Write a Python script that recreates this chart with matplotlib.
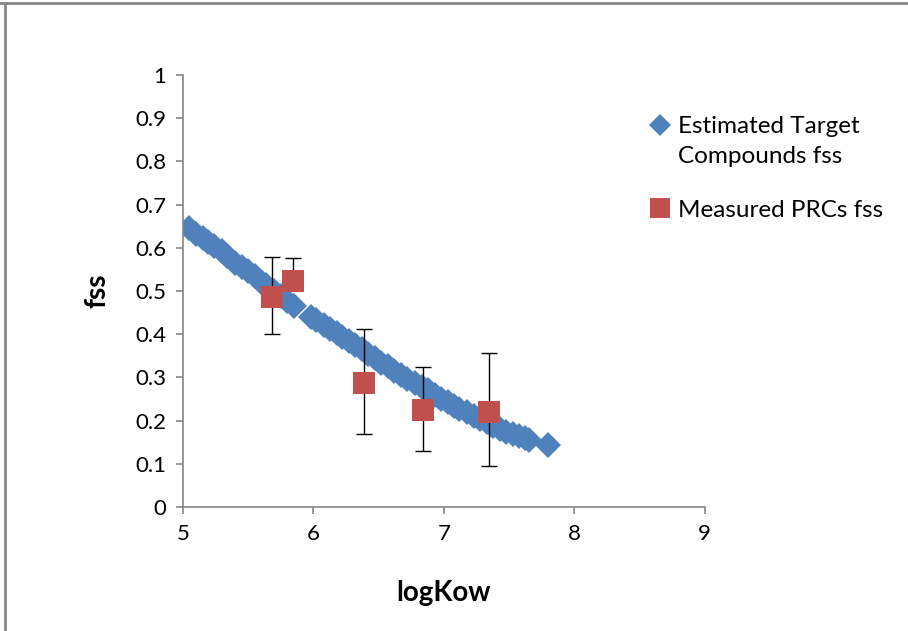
import matplotlib
matplotlib.use("Agg")
import matplotlib.pyplot as plt
from matplotlib.lines import Line2D

plt.rcParams['font.family'] = ['Lato', 'DejaVu Sans']

# estimated target compounds (logKow, fss)
est_x = [5.05, 5.10, 5.15, 5.19, 5.24, 5.30, 5.34, 5.40, 5.45, 5.50, 5.55, 5.60,
         5.64, 5.70, 5.75, 5.80, 5.85,
         5.98, 6.02, 6.08, 6.13, 6.18, 6.22, 6.27, 6.32, 6.37, 6.42, 6.47, 6.52,
         6.57, 6.62, 6.67, 6.72, 6.78, 6.83, 6.88, 6.93, 6.98, 7.03, 7.08, 7.12,
         7.18, 7.23, 7.28, 7.33, 7.38, 7.43, 7.48, 7.53, 7.58, 7.62, 7.65, 7.80]
est_y = [0.646, 0.633, 0.623, 0.614, 0.604, 0.592, 0.580, 0.566, 0.556, 0.546, 0.535, 0.522,
         0.513, 0.500, 0.489, 0.478, 0.466,
         0.440, 0.432, 0.421, 0.412, 0.402, 0.394, 0.384, 0.374, 0.365, 0.355, 0.344, 0.334,
         0.326, 0.316, 0.306, 0.297, 0.287, 0.278, 0.270, 0.260, 0.251, 0.243, 0.235, 0.228,
         0.219, 0.210, 0.203, 0.196, 0.188, 0.180, 0.174, 0.170, 0.165, 0.160, 0.156, 0.143]

# measured PRCs
prc_x = [5.68, 5.84, 6.39, 6.84, 7.35]
prc_y = [0.486, 0.524, 0.287, 0.225, 0.220]
prc_err_lo = [0.086, 0.020, 0.118, 0.095, 0.125]
prc_err_hi = [0.093, 0.052, 0.125, 0.099, 0.136]

blue = '#4F81BD'
red = '#C0504D'
grey = '#868686'

fig = plt.figure(figsize=(9.08, 6.31), dpi=100)
ax = fig.add_axes([0.2015, 0.1965, 0.5745, 0.6845])

ax.plot(est_x, est_y, linestyle='none', marker='D', markersize=13,
        color=blue, markeredgewidth=0, zorder=2)
ax.errorbar(prc_x, prc_y, yerr=[prc_err_lo, prc_err_hi], fmt='none',
            ecolor='black', elinewidth=1, capsize=6, capthick=1, zorder=3)
ax.plot(prc_x, prc_y, linestyle='none', marker='s', markersize=16,
        color=red, markeredgewidth=0, zorder=4)

ax.set_xlim(5, 9)
ax.set_ylim(0, 1)
ax.set_xticks([5, 6, 7, 8, 9])
ax.set_yticks([i / 10 for i in range(11)])
ax.set_yticklabels(['0', '0.1', '0.2', '0.3', '0.4', '0.5', '0.6', '0.7', '0.8', '0.9', '1'])

for s in ['top', 'right']:
    ax.spines[s].set_visible(False)
for s in ['left', 'bottom']:
    ax.spines[s].set_color(grey)
    ax.spines[s].set_linewidth(1.2)
ax.tick_params(direction='out', length=5, width=1.2, color=grey,
               labelsize=16, pad=7)

ax.set_xlabel('logKow', fontsize=20, fontweight='bold', labelpad=26)
ax.set_ylabel('fss', fontsize=20, fontweight='bold', labelpad=18)

# legend: Excel puts the marker on the first line of a wrapped label,
# so the two entries are built as separate legends
leg_kw = dict(frameon=False, fontsize=17.5, handlelength=0.8, handletextpad=0.35,
              borderpad=0, borderaxespad=0, loc='center left')
h_est = Line2D([], [], linestyle='none', marker='D', markersize=11, color=blue, markeredgewidth=0)
h_none = Line2D([], [], linestyle='none', marker='none')
h_prc = Line2D([], [], linestyle='none', marker='s', markersize=15, color=red, markeredgewidth=0)
leg1 = fig.legend([h_est, h_none], ['Estimated Target', 'Compounds fss'],
                  bbox_to_anchor=(0.716, 0.776), labelspacing=0.35, **leg_kw)
leg2 = fig.legend([h_prc], ['Measured PRCs fss'],
                  bbox_to_anchor=(0.716, 0.667), **leg_kw)

# outer frame (top and left edges)
fig.add_artist(Line2D([0, 1], [0.995, 0.995], color=grey, linewidth=2, transform=fig.transFigure))
fig.add_artist(Line2D([0.006, 0.006], [0, 0.995], color=grey, linewidth=2, transform=fig.transFigure))

fig.savefig('out.png', dpi=100)
